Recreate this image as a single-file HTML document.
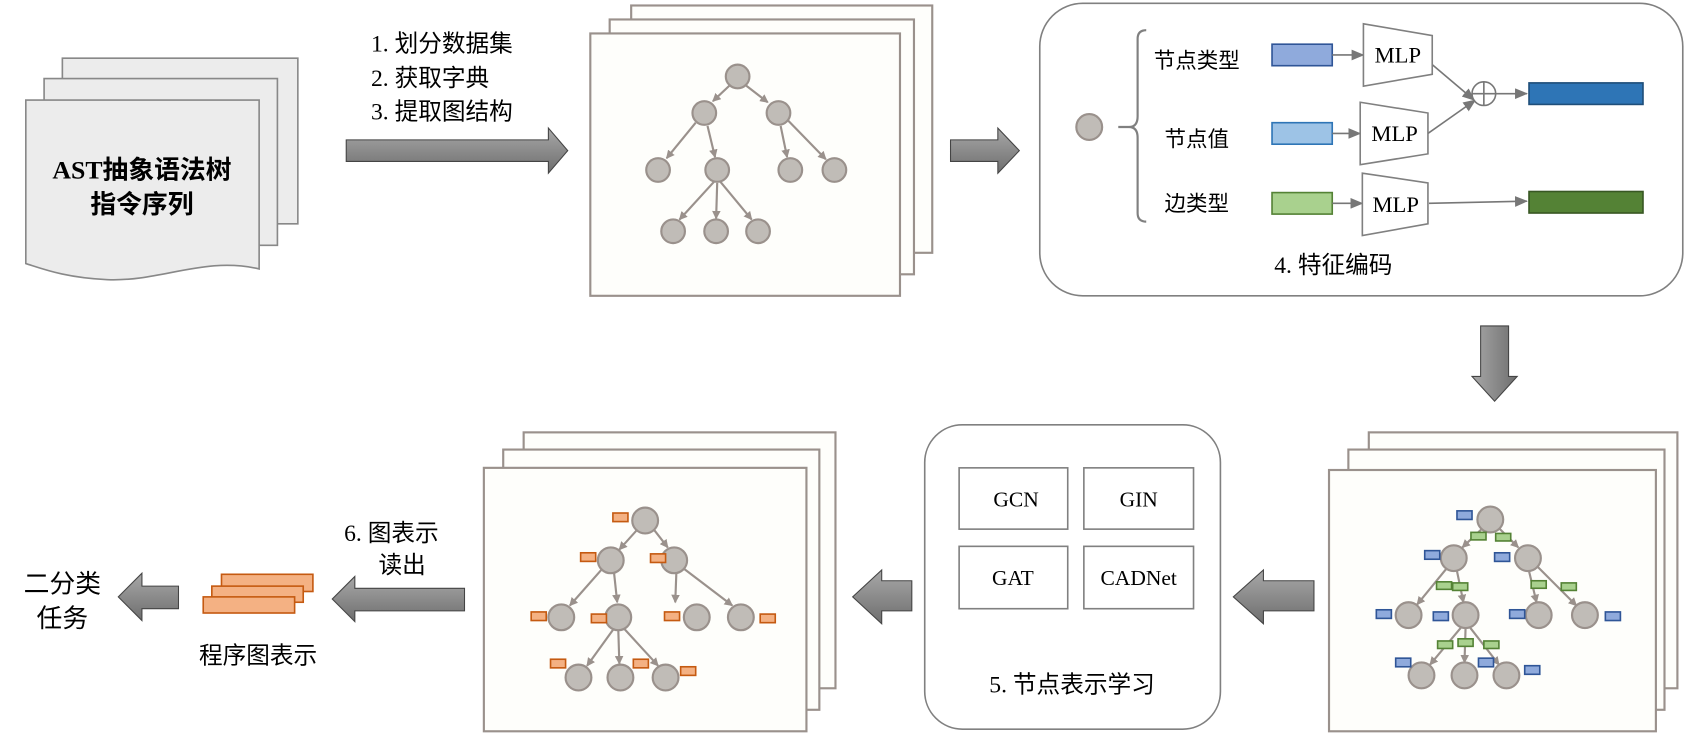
<!DOCTYPE html>
<html><head><meta charset="utf-8"><style>
html,body{margin:0;padding:0;background:#fff}
svg{display:block}
text{font-family:"Liberation Serif","Noto Sans CJK SC",serif;fill:#000}
</style></head><body>
<svg width="1686" height="740" viewBox="0 0 1568 688" xmlns="http://www.w3.org/2000/svg">
<defs>
<linearGradient id="ga" x1="0" y1="0" x2="0" y2="1"><stop offset="0" stop-color="#a8a8a8"/><stop offset="1" stop-color="#6e6e6e"/></linearGradient>
<linearGradient id="gv" x1="0" y1="0" x2="1" y2="0"><stop offset="0" stop-color="#a8a8a8"/><stop offset="1" stop-color="#6e6e6e"/></linearGradient>
<marker id="ah" markerWidth="8" markerHeight="8" refX="7" refY="4" orient="auto" markerUnits="userSpaceOnUse"><path d="M0,0 L8,4 L0,8 z" fill="#9a918c"/></marker>
<marker id="ah2" markerWidth="12" markerHeight="10" refX="11" refY="5" orient="auto" markerUnits="userSpaceOnUse"><path d="M0,0 L12,5 L0,10 z" fill="#777"/></marker>
</defs>

<!-- docs -->
<g fill="#ececec" stroke="#888" stroke-width="1.5">
<path d="M58,54 H277 V208 H58 Z"/>
<path d="M41,73 H258 V228 H41 Z"/>
<path d="M24,93 H241 V250 C190,238 150,262 100,260 C60,258 40,250 24,245 Z"/>
</g>
<text x="132" y="166" text-anchor="middle" font-size="24" font-weight="bold">AST抽象语法树</text>
<text x="132" y="198" text-anchor="middle" font-size="24" font-weight="bold">指令序列</text>

<text x="345" y="48" font-size="22">1. 划分数据集</text>
<text x="345" y="80" font-size="22">2. 获取字典</text>
<text x="345" y="111" font-size="22">3. 提取图结构</text>
<path d="M322,130 H510 V119 L528,140 L510,161 V150 H322 Z" fill="url(#ga)" stroke="#444" stroke-width="1"/>

<!-- top graph stack -->
<g fill="#fefefb" stroke="#9a918c" stroke-width="2">
<rect x="587" y="5" width="280" height="230"/>
<rect x="567" y="18" width="283" height="237"/>
<rect x="549" y="31" width="288" height="244"/>
</g>
<g stroke="#9a918c" stroke-width="2" marker-end="url(#ah)">
<line x1="680" y1="78" x2="663" y2="94"/><line x1="692" y1="78" x2="714" y2="95"/>
<line x1="647" y1="114" x2="620" y2="147"/><line x1="658" y1="117" x2="665" y2="146"/>
<line x1="726" y1="117" x2="732" y2="146"/><line x1="732" y1="111" x2="768" y2="148"/>
<line x1="664" y1="169" x2="632" y2="204"/><line x1="667" y1="170" x2="666" y2="203"/><line x1="670" y1="169" x2="699" y2="204"/>
</g>
<g fill="#c0bcb7" stroke="#9a918c" stroke-width="2">
<circle cx="686" cy="71" r="11"/><circle cx="655" cy="105" r="11"/><circle cx="724" cy="105" r="11"/>
<circle cx="612" cy="158" r="11"/><circle cx="667" cy="158" r="11"/><circle cx="735" cy="158" r="11"/><circle cx="776" cy="158" r="11"/>
<circle cx="626" cy="215" r="11"/><circle cx="666" cy="215" r="11"/><circle cx="705" cy="215" r="11"/>
</g>

<path d="M884,130 H928 V119 L948,140 L928,161 V150 H884 Z" fill="url(#ga)" stroke="#444" stroke-width="1"/>

<!-- feature encoding box -->
<rect x="967" y="3" width="598" height="272" rx="40" fill="#fff" stroke="#808080" stroke-width="1.5"/>
<circle cx="1013" cy="118" r="12" fill="#c0bcb7" stroke="#9a918c" stroke-width="2"/>
<path d="M1040,118 H1050 Q1058,118 1058,108 V36 Q1058,28 1066,28 M1050,118 Q1058,118 1058,128 V198 Q1058,206 1066,206" fill="none" stroke="#808080" stroke-width="2"/>
<text x="1073" y="63" font-size="20">节点类型</text>
<text x="1083" y="136" font-size="20">节点值</text>
<text x="1083" y="196" font-size="20">边类型</text>
<rect x="1183" y="41" width="56" height="20" fill="#8faadc" stroke="#2f5597" stroke-width="1.5"/>
<rect x="1183" y="114" width="56" height="20" fill="#9dc3e6" stroke="#2e75b6" stroke-width="1.5"/>
<rect x="1183" y="179" width="56" height="20" fill="#a9d18e" stroke="#548235" stroke-width="1.5"/>
<g stroke="#777" stroke-width="1.5" marker-end="url(#ah2)" fill="none">
<line x1="1239" y1="51" x2="1268" y2="51"/><line x1="1239" y1="124" x2="1265" y2="124"/><line x1="1239" y1="189" x2="1267" y2="189"/>
<line x1="1332" y1="60" x2="1371" y2="93"/><line x1="1328" y1="124" x2="1372" y2="93"/>
<line x1="1391" y1="87" x2="1420" y2="87"/><line x1="1329" y1="189" x2="1420" y2="187"/>
</g>
<g fill="#fff" stroke="#808080" stroke-width="1.5">
<path d="M1268,22 L1332,33 V69 L1268,80 Z"/>
<path d="M1265,95 L1328,105 V143 L1265,153 Z"/>
<path d="M1267,161 L1328,170 V208 L1267,219 Z"/>
</g>
<circle cx="1380" cy="87" r="11" fill="#fff" stroke="#777" stroke-width="1.5"/>
<path d="M1369,87 H1391 M1380,76 V98" stroke="#777" stroke-width="1.5"/>
<text x="1300" y="58" text-anchor="middle" font-size="21">MLP</text>
<text x="1297" y="131" text-anchor="middle" font-size="21">MLP</text>
<text x="1298" y="197" text-anchor="middle" font-size="21">MLP</text>
<rect x="1422" y="77" width="106" height="20" fill="#2e75b6" stroke="#1f4e79" stroke-width="1.5"/>
<rect x="1422" y="178" width="106" height="20" fill="#548235" stroke="#385723" stroke-width="1.5"/>
<text x="1240" y="254" text-anchor="middle" font-size="22">4. 特征编码</text>

<!-- down arrow -->
<path d="M1377,303 H1403 V350 H1411 L1390,373 L1369,350 H1377 Z" fill="url(#gv)" stroke="#444" stroke-width="1"/>

<!-- bottom right stack -->
<g fill="#fefefb" stroke="#9a918c" stroke-width="2">
<rect x="1273" y="402" width="287" height="238"/>
<rect x="1254" y="418" width="294" height="242"/>
<rect x="1236" y="437" width="304" height="243"/>
</g>
<g stroke="#9a918c" stroke-width="2" marker-end="url(#ah)">
<line x1="1380" y1="490" x2="1360" y2="509"/><line x1="1393" y1="490" x2="1412" y2="509"/>
<line x1="1345" y1="529" x2="1318" y2="562"/><line x1="1355" y1="531" x2="1361" y2="560"/>
<line x1="1422" y1="531" x2="1429" y2="560"/><line x1="1430" y1="527" x2="1466" y2="563"/>
<line x1="1360" y1="582" x2="1330" y2="618"/><line x1="1363" y1="584" x2="1362" y2="616"/><line x1="1366" y1="582" x2="1394" y2="618"/>
</g>
<g fill="#c0bcb7" stroke="#9a918c" stroke-width="2">
<circle cx="1386" cy="483" r="12"/><circle cx="1352" cy="519" r="12"/><circle cx="1421" cy="519" r="12"/>
<circle cx="1310" cy="572" r="12"/><circle cx="1363" cy="572" r="12"/><circle cx="1431" cy="572" r="12"/><circle cx="1474" cy="572" r="12"/>
<circle cx="1322" cy="628" r="12"/><circle cx="1362" cy="628" r="12"/><circle cx="1401" cy="628" r="12"/>
</g>
<g fill="#8faadc" stroke="#2f5597" stroke-width="1.5">
<rect x="1355" y="475" width="14" height="8"/><rect x="1325" y="512" width="14" height="8"/><rect x="1390" y="514" width="14" height="8"/>
<rect x="1280" y="567" width="14" height="8"/><rect x="1333" y="569" width="14" height="8"/><rect x="1404" y="567" width="14" height="8"/><rect x="1493" y="569" width="14" height="8"/>
<rect x="1298" y="612" width="14" height="8"/><rect x="1375" y="612" width="14" height="8"/><rect x="1418" y="619" width="14" height="8"/>
</g>
<g fill="#a9d18e" stroke="#548235" stroke-width="1.5">
<rect x="1368" y="495" width="14" height="7"/><rect x="1391" y="496" width="14" height="7"/>
<rect x="1336" y="541" width="14" height="7"/><rect x="1351" y="542" width="14" height="7"/>
<rect x="1424" y="540" width="14" height="7"/><rect x="1452" y="542" width="14" height="7"/>
<rect x="1337" y="596" width="14" height="7"/><rect x="1356" y="594" width="14" height="7"/><rect x="1380" y="596" width="14" height="7"/>
</g>

<path d="M1222,540 H1175 V530 L1147,555 L1175,580 V568 H1222 Z" fill="url(#ga)" stroke="#444" stroke-width="1"/>

<!-- node representation learning -->
<rect x="860" y="395" width="275" height="283" rx="35" fill="#fff" stroke="#808080" stroke-width="1.5"/>
<g fill="#fff" stroke="#808080" stroke-width="1.5">
<rect x="892" y="435" width="101" height="57"/><rect x="1008" y="435" width="102" height="57"/>
<rect x="892" y="508" width="101" height="58"/><rect x="1008" y="508" width="102" height="58"/>
</g>
<text x="945" y="471" text-anchor="middle" font-size="20">GCN</text>
<text x="1059" y="471" text-anchor="middle" font-size="20">GIN</text>
<text x="942" y="544" text-anchor="middle" font-size="20">GAT</text>
<text x="1059" y="544" text-anchor="middle" font-size="20">CADNet</text>
<text x="997" y="644" text-anchor="middle" font-size="22">5. 节点表示学习</text>

<path d="M848,540 H820 V530 L793,555 L820,580 V568 H848 Z" fill="url(#ga)" stroke="#444" stroke-width="1"/>

<!-- bottom middle stack -->
<g fill="#fefefb" stroke="#9a918c" stroke-width="2">
<rect x="487" y="402" width="290" height="238"/>
<rect x="468" y="418" width="294" height="242"/>
<rect x="450" y="435" width="300" height="245"/>
</g>
<g stroke="#9a918c" stroke-width="2" marker-end="url(#ah)">
<line x1="594" y1="491" x2="576" y2="511"/><line x1="607" y1="491" x2="621" y2="509"/>
<line x1="560" y1="529" x2="530" y2="563"/><line x1="571" y1="532" x2="574" y2="560"/>
<line x1="629" y1="533" x2="628" y2="560"/><line x1="635" y1="528" x2="681" y2="563"/>
<line x1="572" y1="583" x2="546" y2="619"/><line x1="575" y1="585" x2="576" y2="617"/><line x1="579" y1="583" x2="612" y2="619"/>
</g>
<g fill="#c0bcb7" stroke="#9a918c" stroke-width="2">
<circle cx="600" cy="484" r="12"/><circle cx="568" cy="521" r="12"/><circle cx="627" cy="521" r="12"/>
<circle cx="522" cy="574" r="12"/><circle cx="575" cy="574" r="12"/><circle cx="648" cy="574" r="12"/><circle cx="689" cy="574" r="12"/>
<circle cx="538" cy="630" r="12"/><circle cx="577" cy="630" r="12"/><circle cx="619" cy="630" r="12"/>
</g>
<g fill="#f4b183" stroke="#c55a11" stroke-width="1.5">
<rect x="570" y="477" width="14" height="8"/><rect x="540" y="514" width="14" height="8"/><rect x="605" y="515" width="14" height="8"/>
<rect x="494" y="569" width="14" height="8"/><rect x="550" y="571" width="14" height="8"/><rect x="618" y="569" width="14" height="8"/><rect x="707" y="571" width="14" height="8"/>
<rect x="512" y="613" width="14" height="8"/><rect x="589" y="613" width="14" height="8"/><rect x="633" y="620" width="14" height="8"/>
</g>

<text x="320" y="503" font-size="22">6. 图表示</text>
<text x="352" y="533" font-size="22">读出</text>
<path d="M432,547 H330 V536 L309,557 L330,578 V568 H432 Z" fill="url(#ga)" stroke="#444" stroke-width="1"/>

<g fill="#f4b183" stroke="#c55a11" stroke-width="1.5">
<rect x="206" y="534" width="85" height="16"/>
<rect x="197" y="545" width="85" height="15"/>
<rect x="189" y="555" width="85" height="15"/>
</g>
<text x="240" y="617" text-anchor="middle" font-size="22">程序图表示</text>

<path d="M166,545 H132 V533 L110,555 L132,577 V566 H166 Z" fill="url(#ga)" stroke="#444" stroke-width="1"/>
<text x="58" y="551" text-anchor="middle" font-size="24">二分类</text>
<text x="58" y="583" text-anchor="middle" font-size="24">任务</text>
</svg>
</body></html>
